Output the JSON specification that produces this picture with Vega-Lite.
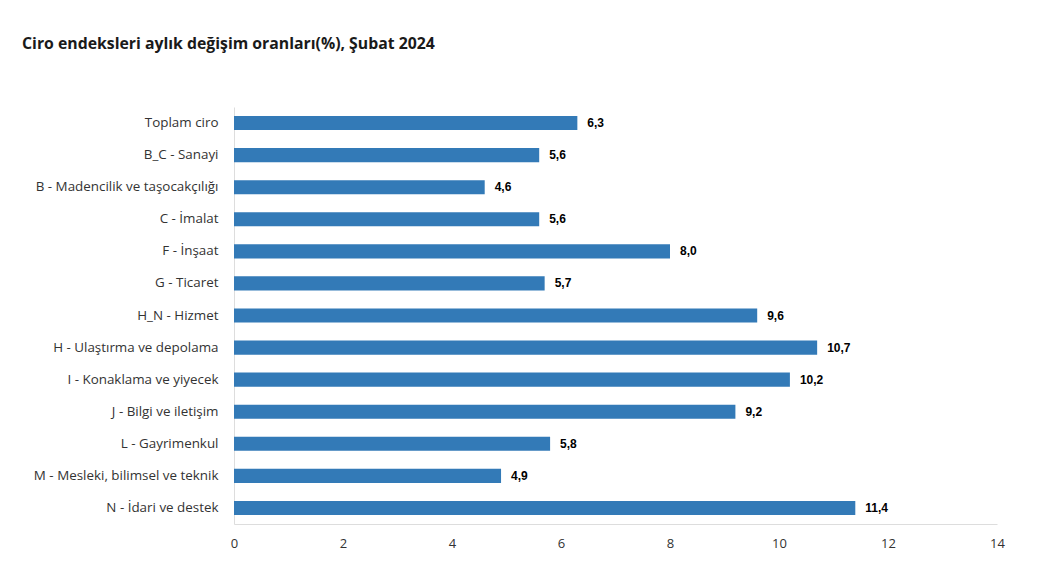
{
  "$schema": "https://vega.github.io/schema/vega-lite/v6.json",
  "autosize": "none",
  "width": 763,
  "height": 417,
  "padding": {"left": 234, "top": 107, "right": 40, "bottom": 46},
  "background": "white",
  "title": {
    "text": "Ciro endeksleri aylık değişim oranları(%), Şubat 2024",
    "anchor": "start",
    "frame": "group",
    "dx": -212,
    "offset": 54,
    "font": "Open Sans",
    "fontSize": 15.8,
    "fontWeight": "bold",
    "color": "#1a1a1a"
  },
  "config": {
    "view": {"stroke": null},
    "locale": {"number": {"decimal": ",", "thousands": ".", "grouping": [3], "currency": ["", " ₺"]}}
  },
  "data": {
    "values": [
      {"sektor": "Toplam ciro", "deger": 6.3},
      {"sektor": "B_C - Sanayi", "deger": 5.6},
      {"sektor": "B - Madencilik ve taşocakçılığı", "deger": 4.6},
      {"sektor": "C - İmalat", "deger": 5.6},
      {"sektor": "F - İnşaat", "deger": 8.0},
      {"sektor": "G - Ticaret", "deger": 5.7},
      {"sektor": "H_N - Hizmet", "deger": 9.6},
      {"sektor": "H - Ulaştırma ve depolama", "deger": 10.7},
      {"sektor": "I - Konaklama ve yiyecek", "deger": 10.2},
      {"sektor": "J - Bilgi ve iletişim", "deger": 9.2},
      {"sektor": "L - Gayrimenkul", "deger": 5.8},
      {"sektor": "M - Mesleki, bilimsel ve teknik", "deger": 4.9},
      {"sektor": "N - İdari ve destek", "deger": 11.4}
    ]
  },
  "encoding": {
    "y": {
      "field": "sektor",
      "type": "nominal",
      "sort": null,
      "scale": {"paddingInner": 0.56, "paddingOuter": 0.28},
      "axis": {
        "title": null,
        "ticks": false,
        "domainColor": "#dddddd",
        "labelFont": "Open Sans",
        "labelFontSize": 13.4,
        "labelColor": "#333333",
        "labelPadding": 16,
        "labelLimit": 300
      }
    },
    "x": {
      "field": "deger",
      "type": "quantitative",
      "scale": {"domain": [0, 14], "nice": false},
      "axis": {
        "title": null,
        "values": [0, 2, 4, 6, 8, 10, 12, 14],
        "format": "d",
        "grid": false,
        "ticks": false,
        "labelFlush": false,
        "domainColor": "#dddddd",
        "labelFont": "Open Sans",
        "labelFontSize": 13,
        "labelColor": "#333333",
        "labelPadding": 13
      }
    }
  },
  "layer": [
    {"mark": {"type": "bar", "color": "#337ab7"}},
    {
      "mark": {"type": "text", "align": "left", "dx": 10, "font": "Liberation Sans", "fontSize": 12, "fontWeight": "bold", "color": "#000000"},
      "encoding": {"text": {"field": "deger", "type": "quantitative", "format": ".1f"}}
    }
  ]
}
